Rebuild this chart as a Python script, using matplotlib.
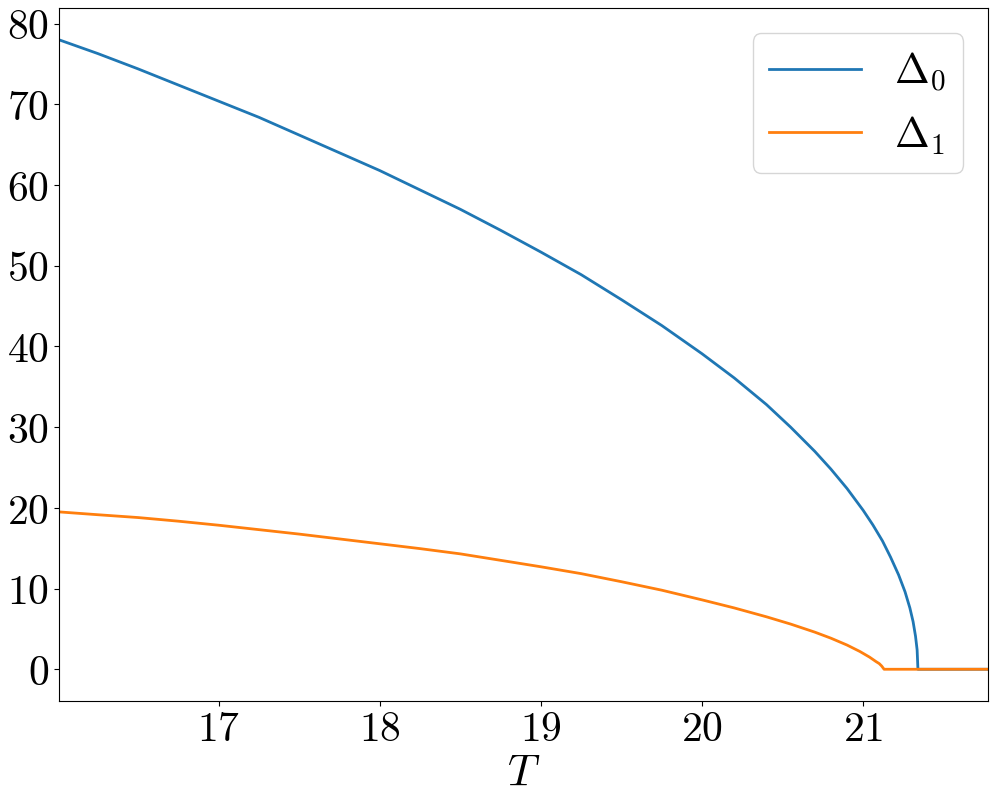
import matplotlib
matplotlib.use("Agg")
import matplotlib.pyplot as plt
import numpy as np

plt.rcParams['font.family'] = 'serif'
plt.rcParams['font.serif'] = ['cmr10']
plt.rcParams['mathtext.fontset'] = 'cm'
plt.rcParams['axes.formatter.use_mathtext'] = True

# gap Delta_0 vs temperature
T0 = [16.01, 16.25, 16.50, 16.75, 17.00, 17.25, 17.50, 17.75, 18.00, 18.25,
      18.50, 18.75, 19.00, 19.25, 19.50, 19.75, 20.00, 20.20, 20.40, 20.55,
      20.70, 20.80, 20.90, 21.00, 21.06, 21.12, 21.17, 21.22, 21.26, 21.29,
      21.31, 21.325, 21.335, 21.34, 21.55, 21.775]
D0 = [78.0, 76.3, 74.4, 72.4, 70.4, 68.4, 66.2, 64.0, 61.8, 59.4,
      57.0, 54.4, 51.7, 48.9, 45.8, 42.6, 39.1, 36.1, 32.8, 30.0,
      27.0, 24.8, 22.4, 19.7, 17.9, 15.9, 13.9, 11.7, 9.6, 7.6,
      5.9, 4.1, 2.4, 0.0, 0.0, 0.0]

# gap Delta_1 vs temperature
T1 = [16.01, 16.25, 16.50, 16.75, 17.00, 17.25, 17.50, 17.75, 18.00, 18.25,
      18.50, 18.75, 19.00, 19.25, 19.50, 19.75, 20.00, 20.20, 20.40, 20.55,
      20.70, 20.80, 20.90, 20.98, 21.04, 21.08, 21.10, 21.115, 21.13, 21.45,
      21.775]
D1 = [19.5, 19.15, 18.8, 18.35, 17.85, 17.3, 16.75, 16.15, 15.55, 14.95,
      14.3, 13.5, 12.7, 11.85, 10.85, 9.8, 8.6, 7.6, 6.5, 5.6,
      4.6, 3.85, 3.0, 2.2, 1.5, 0.95, 0.7, 0.4, 0.0, 0.0,
      0.0]

fig, ax = plt.subplots(figsize=(9.97, 8.04), dpi=100)
fig.subplots_adjust(left=0.0592, right=0.991, top=0.9884, bottom=0.1272)

ax.plot(T0, D0, color='#1f77b4', linewidth=2, label=r'$\Delta_0$')
ax.plot(T1, D1, color='#ff7f0e', linewidth=2, label=r'$\Delta_1$')

ax.set_xlim(T0[0], T0[-1])
ax.set_xticks([17, 18, 19, 20, 21])
ax.set_yticks([0, 10, 20, 30, 40, 50, 60, 70, 80])
ax.tick_params(labelsize=30)
ax.set_xlabel(r'$T$', fontsize=32, labelpad=4)
ax.legend(fontsize=30, loc='upper right', handlelength=2.2, borderaxespad=0.6)

fig.savefig('out.png', dpi=100)
